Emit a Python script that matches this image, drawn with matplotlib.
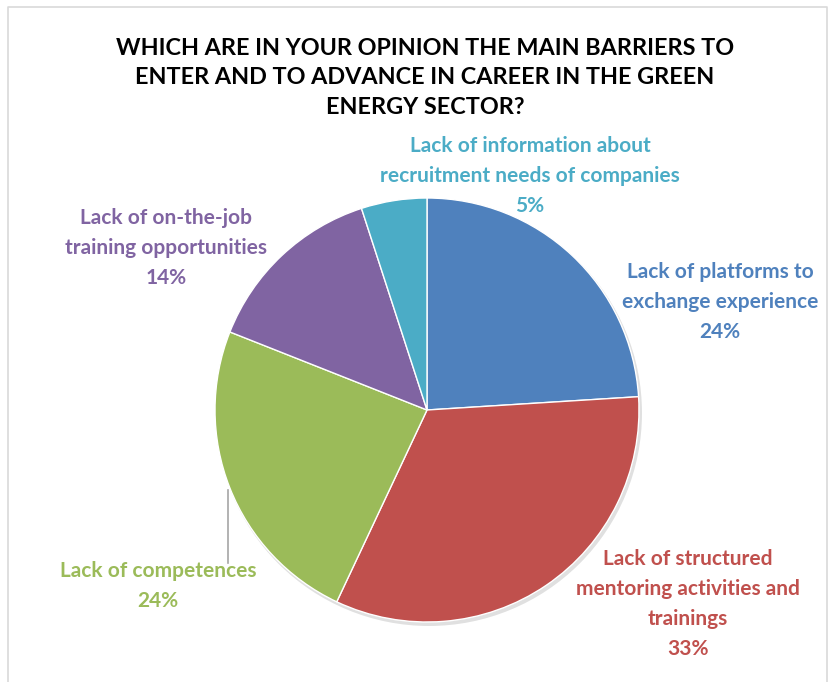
import matplotlib.pyplot as plt
from matplotlib.patches import Circle

categories = ["Lack of platforms to\nexchange experience",
              "Lack of structured\nmentoring activities and\ntrainings",
              "Lack of competences",
              "Lack of on-the-job\ntraining opportunities",
              "Lack of information about\nrecruitment needs of companies"]
values = [24, 33, 24, 14, 5]
colors = ["#4F81BD", "#C0504D", "#9BBB59", "#8064A2", "#4BACC6"]

# label anchor positions in pixel space (x, y from top)
label_pos = [(720, 302), (688, 604), (158, 586), (166, 248), (530, 176)]

W, H = 829, 682
fig = plt.figure(figsize=(W / 100, H / 100), dpi=100)
ax = fig.add_axes([0, 0, 1, 1])

cx, cy, r = 427, H - 410, 212

# soft shadow under the pie
ax.add_patch(Circle((cx + 2, cy - 3), r + 1, color="#000000", alpha=0.12, lw=0, zorder=0))

ax.pie(values, colors=colors, startangle=90, counterclock=False,
       center=(cx, cy), radius=r, frame=True,
       wedgeprops=dict(linewidth=1, edgecolor="white"))
ax.set_xlim(0, W)
ax.set_ylim(0, H)
ax.set_aspect("equal")
ax.axis("off")

font = "Lato"
for cat, v, c, (lx, ly) in zip(categories, values, colors, label_pos):
    ax.text(lx, H - ly, f"{cat}\n{v}%", color=c, ha="center", va="center",
            fontsize=15, fontweight="bold", family=font, linespacing=1.63)

# leader line for the green label
ax.plot([228, 228], [H - 490, H - 563], color="#A6A6A6", lw=1.2)

ax.text(425, H - 78, "WHICH ARE IN YOUR OPINION THE MAIN BARRIERS TO\n"
        "ENTER AND TO ADVANCE IN CAREER IN THE GREEN\nENERGY SECTOR?",
        ha="center", va="center", fontsize=16.8, fontweight="bold",
        family=font, color="black", linespacing=1.52)

# chart frame
ax.plot([8, 8, 827, 827], [0, H - 7, H - 7, 0], color="#D9D9D9", lw=1.2)

fig.savefig("out.png", dpi=100)
